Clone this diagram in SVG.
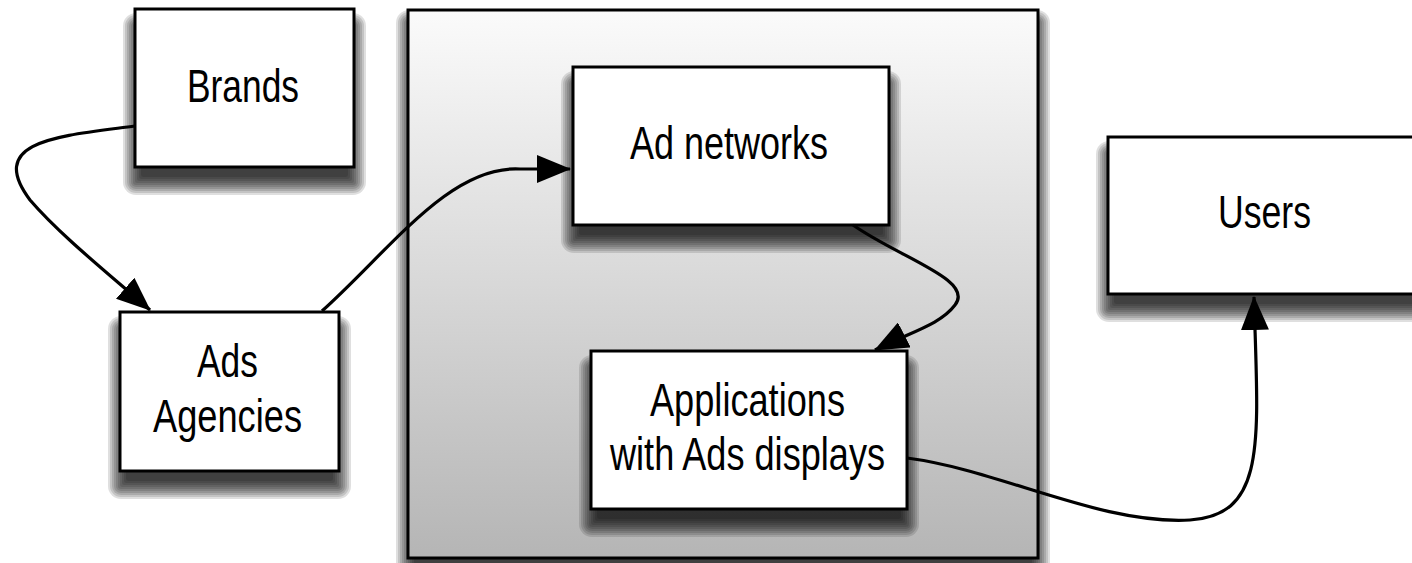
<svg xmlns="http://www.w3.org/2000/svg" width="1412" height="563" viewBox="0 0 1412 563">
<defs>
<style>
.box{fill:#fff;stroke:#000;stroke-width:3}
.sh rect{fill:#000;fill-opacity:0.125}
.lbl{font-family:"Liberation Sans",Arial,sans-serif;font-size:46px;fill:#000}
.con{fill:none;stroke:#000;stroke-width:3.2;marker-end:url(#ah)}
</style>
<linearGradient id="cg" x1="0" y1="0" x2="0" y2="1">
<stop offset="0" stop-color="#fbfbfb"/>
<stop offset="1" stop-color="#b5b5b5"/>
</linearGradient>
<marker id="ah" markerUnits="userSpaceOnUse" markerWidth="34" markerHeight="28" refX="33" refY="14" orient="auto">
<path d="M0,0 L34,14 L0,28 z" fill="#000"/>
</marker>
</defs>
<rect width="1412" height="563" fill="#fff"/>
<g id="platform">
<g class="sh">
<rect x="414" y="28" width="618" height="536" rx="2"/>
<rect x="412" y="26" width="622" height="540" rx="2"/>
<rect x="410" y="24" width="626" height="544" rx="2"/>
<rect x="408" y="22" width="630" height="548" rx="2"/>
<rect x="406" y="20" width="634" height="552" rx="3"/>
<rect x="404" y="18" width="638" height="556" rx="5"/>
<rect x="402" y="16" width="642" height="560" rx="7"/>
<rect x="400" y="14" width="646" height="564" rx="9"/>
<rect x="398" y="12" width="650" height="568" rx="11"/>
<rect x="396" y="10" width="654" height="572" rx="13"/>
</g>
<rect x="408" y="10" width="630" height="548" fill="url(#cg)" stroke="#000" stroke-width="3"/>
</g>
<g id="brands">
<g class="sh" transform="translate(0,4)">
<rect x="141" y="27" width="207" height="146" rx="2"/>
<rect x="139" y="25" width="211" height="150" rx="2"/>
<rect x="137" y="23" width="215" height="154" rx="2"/>
<rect x="135" y="21" width="219" height="158" rx="2"/>
<rect x="133" y="19" width="223" height="162" rx="3"/>
<rect x="131" y="17" width="227" height="166" rx="5"/>
<rect x="129" y="15" width="231" height="170" rx="7"/>
<rect x="127" y="13" width="235" height="174" rx="9"/>
<rect x="125" y="11" width="239" height="178" rx="11"/>
<rect x="123" y="9" width="243" height="182" rx="13"/>
</g>
<rect class="box" x="135" y="9" width="219" height="158"/>
<text class="lbl" x="187" y="102" textLength="112" lengthAdjust="spacingAndGlyphs">Brands</text>
</g>
<g id="agencies">
<g class="sh" transform="translate(0,4)">
<rect x="126" y="330" width="207" height="147" rx="2"/>
<rect x="124" y="328" width="211" height="151" rx="2"/>
<rect x="122" y="326" width="215" height="155" rx="2"/>
<rect x="120" y="324" width="219" height="159" rx="2"/>
<rect x="118" y="322" width="223" height="163" rx="3"/>
<rect x="116" y="320" width="227" height="167" rx="5"/>
<rect x="114" y="318" width="231" height="171" rx="7"/>
<rect x="112" y="316" width="235" height="175" rx="9"/>
<rect x="110" y="314" width="239" height="179" rx="11"/>
<rect x="108" y="312" width="243" height="183" rx="13"/>
</g>
<rect class="box" x="120" y="312" width="219" height="159"/>
<text class="lbl" x="197" y="377" textLength="61" lengthAdjust="spacingAndGlyphs">Ads</text>
<text class="lbl" x="153" y="432" textLength="149" lengthAdjust="spacingAndGlyphs">Agencies</text>
</g>
<g id="adnetworks">
<g class="sh" transform="translate(0,4)">
<rect x="579" y="85" width="304" height="146" rx="2"/>
<rect x="577" y="83" width="308" height="150" rx="2"/>
<rect x="575" y="81" width="312" height="154" rx="2"/>
<rect x="573" y="79" width="316" height="158" rx="2"/>
<rect x="571" y="77" width="320" height="162" rx="3"/>
<rect x="569" y="75" width="324" height="166" rx="5"/>
<rect x="567" y="73" width="328" height="170" rx="7"/>
<rect x="565" y="71" width="332" height="174" rx="9"/>
<rect x="563" y="69" width="336" height="178" rx="11"/>
<rect x="561" y="67" width="340" height="182" rx="13"/>
</g>
<rect class="box" x="573" y="67" width="316" height="158"/>
<text class="lbl" x="630" y="159" textLength="198" lengthAdjust="spacingAndGlyphs">Ad networks</text>
</g>
<g id="applications">
<g class="sh" transform="translate(0,4)">
<rect x="597" y="369" width="304" height="146" rx="2"/>
<rect x="595" y="367" width="308" height="150" rx="2"/>
<rect x="593" y="365" width="312" height="154" rx="2"/>
<rect x="591" y="363" width="316" height="158" rx="2"/>
<rect x="589" y="361" width="320" height="162" rx="3"/>
<rect x="587" y="359" width="324" height="166" rx="5"/>
<rect x="585" y="357" width="328" height="170" rx="7"/>
<rect x="583" y="355" width="332" height="174" rx="9"/>
<rect x="581" y="353" width="336" height="178" rx="11"/>
<rect x="579" y="351" width="340" height="182" rx="13"/>
</g>
<rect class="box" x="591" y="351" width="316" height="158"/>
<text class="lbl" x="650" y="416" textLength="195" lengthAdjust="spacingAndGlyphs">Applications</text>
<text class="lbl" x="610" y="470" textLength="275" lengthAdjust="spacingAndGlyphs">with Ads displays</text>
</g>
<g id="users">
<g class="sh" transform="translate(0,4)">
<rect x="1114" y="155" width="308" height="145" rx="2"/>
<rect x="1112" y="153" width="312" height="149" rx="2"/>
<rect x="1110" y="151" width="316" height="153" rx="2"/>
<rect x="1108" y="149" width="320" height="157" rx="2"/>
<rect x="1106" y="147" width="324" height="161" rx="3"/>
<rect x="1104" y="145" width="328" height="165" rx="5"/>
<rect x="1102" y="143" width="332" height="169" rx="7"/>
<rect x="1100" y="141" width="336" height="173" rx="9"/>
<rect x="1098" y="139" width="340" height="177" rx="11"/>
<rect x="1096" y="137" width="344" height="181" rx="13"/>
</g>
<rect class="box" x="1108" y="137" width="320" height="157"/>
<text class="lbl" x="1218" y="228" textLength="93" lengthAdjust="spacingAndGlyphs">Users</text>
</g>
<g id="connectors">
<path class="con" d="M135,126 C60,136 -15,140 30,200 C60,235 110,275 150,310"/>
<path class="con" d="M322,311 C390,250 450,165 520,169 L570,169"/>
<path class="con" d="M853,225 C900,258 975,280 955,305 C940,325 910,332 875,350"/>
<path class="con" d="M907,458 C1000,470 1100,525 1190,520 C1268,515 1258,440 1254,297"/>
</g>
</svg>
